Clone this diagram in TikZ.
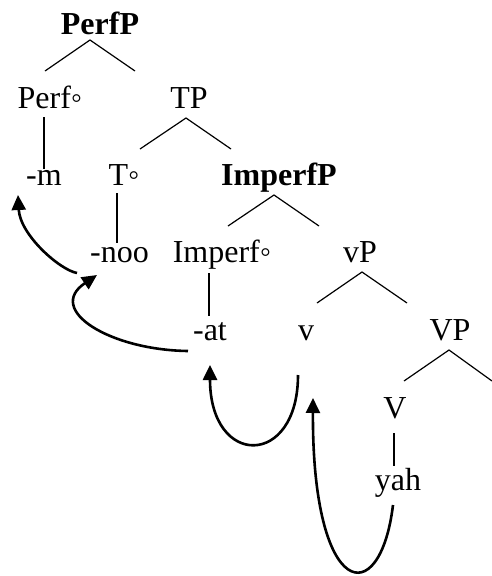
\documentclass[tikz,border=0pt]{standalone}
\usepackage{fontspec}
\setmainfont{Liberation Serif}
\usetikzlibrary{arrows.meta}
\begin{document}
\begin{tikzpicture}[x=1pt,y=-1pt,
  lbl/.style={anchor=base,inner sep=0pt,font=\fontsize{32}{38}\selectfont},
  blbl/.style={lbl,font=\fontsize{32}{38}\selectfont\bfseries},
  br/.style={line width=1.2pt},
  mv/.style={line width=2.6pt,-{Triangle[length=15pt,width=14pt]}}]
\useasboundingbox (0,0) rectangle (492,576);
% labels
\node[blbl] (PerfP) at (100,34) {PerfP};
\node[lbl] (Perf) at (50,108) {Perf◦};
\node[lbl] (TP) at (189,108) {TP};
\node[lbl] (m) at (44,185) {-m};
\node[lbl] (T) at (124,185) {T◦};
\node[blbl] (ImperfP) at (279,185) {ImperfP};
\node[lbl] (noo) at (119.5,262) {-noo};
\node[lbl] (Imperf) at (222,262) {Imperf◦};
\node[lbl] (vP) at (360,262) {vP};
\node[lbl] (at) at (210,340) {-at};
\node[lbl] (v) at (306,340) {v};
\node[lbl] (VP) at (450,340) {VP};
\node[lbl] (V) at (395,418) {V};
\node[lbl] (yah) at (398,490) {yah};
% branch points
\coordinate (PerfPa) at (90,40);  \coordinate (PerfPl) at (45,71);  \coordinate (PerfPr) at (135,71);
\coordinate (TPa) at (186,118);   \coordinate (TPl) at (140,149);   \coordinate (TPr) at (231,149);
\coordinate (IPa) at (274,195);   \coordinate (IPl) at (228,226);   \coordinate (IPr) at (319,226);
\coordinate (vPa) at (362,272);   \coordinate (vPl) at (317,303);   \coordinate (vPr) at (407,303);
\coordinate (VPa) at (449,350);   \coordinate (VPl) at (404,381);   \coordinate (VPr) at (492,381);
\coordinate (Perfb) at (44,117);  \coordinate (mt) at (44,169);
\coordinate (Tb) at (117,193);    \coordinate (noot) at (117,243);
\coordinate (Imperfb) at (209,273); \coordinate (att) at (209,316);
\coordinate (Vb) at (394,433);    \coordinate (yaht) at (394,466);
% tree lines
\draw[br] (PerfPl) -- (PerfPa) -- (PerfPr);
\draw[br] (TPl) -- (TPa) -- (TPr);
\draw[br] (IPl) -- (IPa) -- (IPr);
\draw[br] (vPl) -- (vPa) -- (vPr);
\draw[br] (VPl) -- (VPa) -- (VPr);
\draw[br] (Perfb) -- (mt);
\draw[br] (Tb) -- (noot);
\draw[br] (Imperfb) -- (att);
\draw[br] (Vb) -- (yaht);
% movement arrows
\coordinate (s1) at (77,273);   \coordinate (e1) at (18,195);
\coordinate (s2) at (188,351);  \coordinate (e2) at (97,275);
\coordinate (s3) at (298,375);  \coordinate (e3) at (210,365);
\coordinate (s4) at (393,505);  \coordinate (e4) at (313,398);
\draw[mv] (s1) .. controls (60,270) and (20,235) .. (e1);
\draw[mv] (s2) .. controls (110,350) and (45,310) .. (e2);
\draw[mv] (s3) .. controls (298,468) and (210,468) .. (e3);
\draw[mv] (s4) .. controls (380,612) and (312,600) .. (e4);
\end{tikzpicture}
\end{document}
